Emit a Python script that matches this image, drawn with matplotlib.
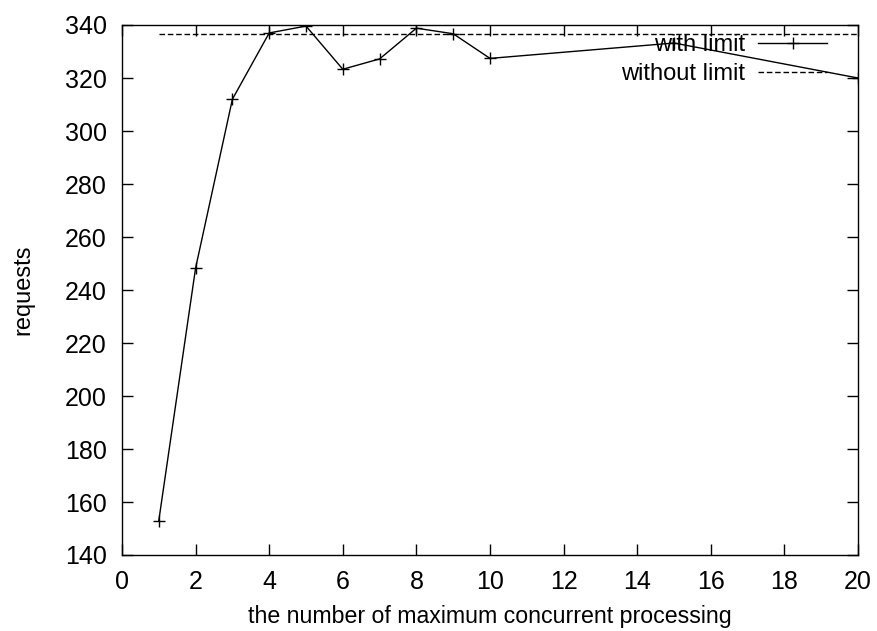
import matplotlib
matplotlib.use("Agg")
import matplotlib.pyplot as plt

# requests handled vs. max concurrent processing
conc = [1, 2, 3, 4, 5, 6, 7, 8, 9, 10, 15, 20]
req_limit = [153, 248.3, 312, 337, 339.6, 323.3, 327.2, 338.8, 336.7, 327.4, 333.2, 320]
req_nolimit = 336.7
nolimit_x = [1, 20]

plt.rcParams["font.family"] = ["Liberation Sans", "DejaVu Sans"]
plt.rcParams["font.size"] = 17

fig = plt.figure(figsize=(8.77, 6.31), dpi=100)
ax = fig.add_axes([122 / 877, 76 / 631, 736 / 877, 530 / 631])

ax.plot(conc, req_limit, color="black", lw=1, marker="+", markersize=9,
        markeredgewidth=1, label="with limit")
ax.plot(nolimit_x, [req_nolimit] * 2, color="black", lw=1, ls=(0, (4, 2)),
        label="without limit")

ax.set_xlim(0, 20)
ax.set_ylim(140, 340)
ax.set_xticks(range(0, 21, 2))
ax.set_yticks(range(140, 341, 20))
ax.tick_params(direction="in", length=8, width=1, top=True, right=True,
               pad=11, labelsize=18)
for s in ax.spines.values():
    s.set_linewidth(1)

ax.set_xlabel("the number of maximum concurrent processing", fontsize=16.7,
              labelpad=8)
ax.set_ylabel("requests", labelpad=22)

ax.legend(loc="upper right", bbox_to_anchor=(0.964, 0.992), frameon=False,
          markerfirst=False, handlelength=2.9, handletextpad=0.55,
          labelspacing=0.3, borderpad=0.2, borderaxespad=0)

fig.savefig("out.png", dpi=100)
